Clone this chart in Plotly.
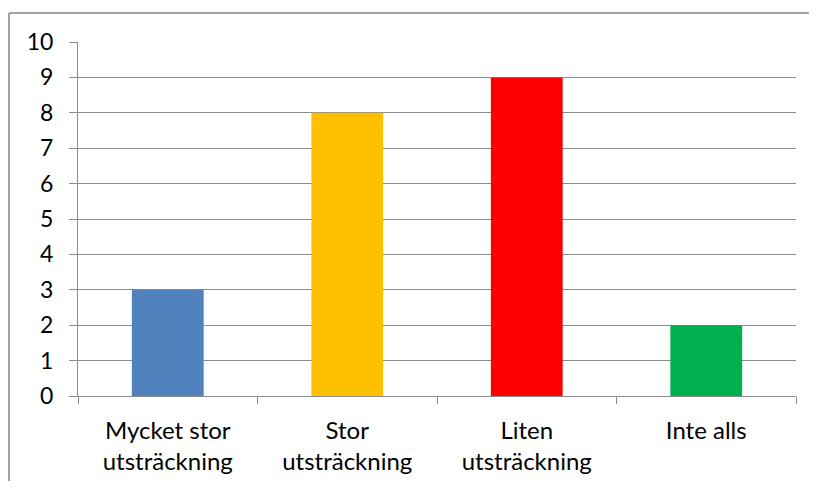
import plotly.graph_objects as go

categories = ["Mycket stor<br>utsträckning", "Stor<br>utsträckning", "Liten<br>utsträckning", "Inte alls"]
values = [3, 8, 9, 2]
colors = ["#4F81BD", "#FFC000", "#FF0000", "#00B050"]
y_ticks = list(range(0, 11))

GRID = "#8C8C8C"
OFF = 8  # page body margin
W, H = 817 - 2 * OFF, 489 - 2 * OFF
L = 78 - OFF
T = 42 - OFF
R = W - (796 - OFF)
B = H - (396 - OFF)
pw = W - L - R
ph = H - T - B

fig = go.Figure(go.Bar(x=categories, y=values, marker_color=colors, marker_line_width=0, width=0.4))

fig.update_layout(
    width=W, height=H,
    margin=dict(l=L, r=R, t=T, b=B, pad=0, autoexpand=False),
    plot_bgcolor="white", paper_bgcolor="white",
    font=dict(family="Lato, Open Sans, sans-serif", size=24, color="#000000"),
    showlegend=False,
    bargap=0.6,
)
fig.update_yaxes(range=[0, 10], tickvals=y_ticks, showgrid=True, gridcolor=GRID, gridwidth=1,
                 showline=True, linecolor=GRID, linewidth=1, ticks="outside", ticklen=8,
                 tickcolor=GRID, zeroline=False, fixedrange=True, ticklabelstandoff=11,
                 tickfont=dict(size=23), automargin=False)
fig.update_xaxes(showline=True, linecolor=GRID, linewidth=1, ticks="outside", tickson="boundaries",
                 ticklen=7, tickcolor=GRID, showgrid=False, ticklabelstandoff=13, automargin=False)

x0 = (9 - OFF - L) / pw
y1 = 1 + (T - (13 - OFF)) / ph
fig.add_shape(type="line", xref="paper", yref="paper", x0=x0, x1=x0, y0=-1, y1=y1,
              line=dict(color="#868686", width=1.5))
fig.add_shape(type="line", xref="paper", yref="paper", x0=x0, x1=2, y0=y1, y1=y1,
              line=dict(color="#868686", width=1.5))

fig.write_html("out.html")
